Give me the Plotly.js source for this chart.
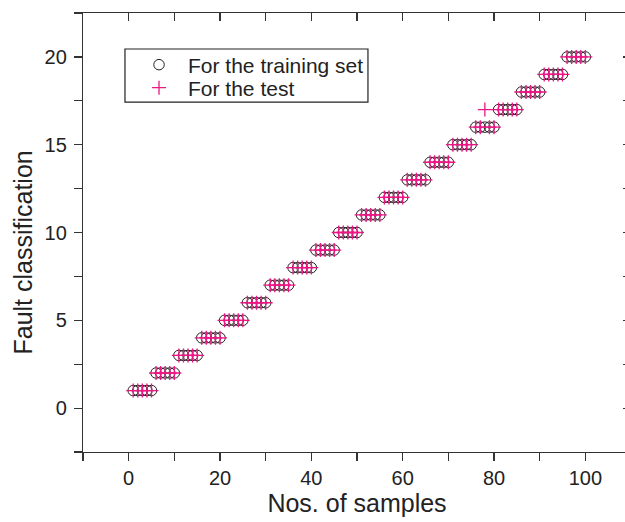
<!DOCTYPE html>
<html>
<head>
<meta charset="utf-8">
<script src="https://cdn.plot.ly/plotly-3.0.1.min.js"></script>
<style>
html, body { margin: 0; padding: 0; overflow: hidden; background: #fff; }
#chart { width: 640px; height: 522px; }
</style>
</head>
<body>
<div id="chart"></div>
<script>
// Sample numbers
var samples = [1,2,3,4,5,6,7,8,9,10,11,12,13,14,15,16,17,18,19,20,
  21,22,23,24,25,26,27,28,29,30,31,32,33,34,35,36,37,38,39,40,
  41,42,43,44,45,46,47,48,49,50,51,52,53,54,55,56,57,58,59,60,
  61,62,63,64,65,66,67,68,69,70,71,72,73,74,75,76,77,78,79,80,
  81,82,83,84,85,86,87,88,89,90,91,92,93,94,95,96,97,98,99,100];
// Fault classes for the training set
var trainingClass = [1,1,1,1,1,2,2,2,2,2,3,3,3,3,3,4,4,4,4,4,
  5,5,5,5,5,6,6,6,6,6,7,7,7,7,7,8,8,8,8,8,
  9,9,9,9,9,10,10,10,10,10,11,11,11,11,11,12,12,12,12,12,
  13,13,13,13,13,14,14,14,14,14,15,15,15,15,15,16,16,16,16,16,
  17,17,17,17,17,18,18,18,18,18,19,19,19,19,19,20,20,20,20,20];
// Fault classes for the test
var testClass = [1,1,1,1,1,2,2,2,2,2,3,3,3,3,3,4,4,4,4,4,
  5,5,5,5,5,6,6,6,6,6,7,7,7,7,7,8,8,8,8,8,
  9,9,9,9,9,10,10,10,10,10,11,11,11,11,11,12,12,12,12,12,
  13,13,13,13,13,14,14,14,14,14,15,15,15,15,15,16,16,17,16,16,
  17,17,17,17,17,18,18,18,18,18,19,19,19,19,19,20,20,20,20,20];

var xTickVals = [-10,0,10,20,30,40,50,60,70,80,90,100,110];
var xTickText = ['','0','','20','','40','','60','','80','','100',''];
var yTickVals = [-2.5,0,2.5,5,7.5,10,12.5,15,17.5,20,22.5];
var yTickText = ['','0','','5','','10','','15','','20',''];

var seriesNames = ['For the training set', 'For the test'];
var xTitle = 'Nos. of samples';
var yTitle = 'Fault classification';

var axisColor = '#333333';
var textColor = '#222222';
var fontFam = 'Liberation Sans, Arial, Helvetica, sans-serif';

var traces = [
  {
    x: samples, y: trainingClass, name: seriesNames[0], legend: 'legend',
    type: 'scatter', mode: 'markers',
    marker: { symbol: 'circle-open', size: 10.5, color: '#222222', line: { width: 1, color: '#222222' } }
  },
  {
    x: samples, y: testClass, name: seriesNames[1], legend: 'legend2',
    type: 'scatter', mode: 'markers',
    marker: { symbol: 'cross-thin-open', size: 10, color: '#ec1784', line: { width: 1.3, color: '#ec1784' } }
  },
  { x: [], y: [], xaxis: 'x2', yaxis: 'y2', showlegend: false, type: 'scatter', mode: 'markers', hoverinfo: 'skip' }
];

var baseAxis = {
  showgrid: false, zeroline: false, showline: true, linecolor: axisColor, linewidth: 1.2,
  tickcolor: axisColor, tickwidth: 1.2, ticklen: 8, tickmode: 'array'
};

var legendBase = {
  xanchor: 'left', yanchor: 'middle', borderwidth: 0, bgcolor: 'rgba(0,0,0,0)',
  font: { size: 21, family: fontFam, color: textColor }, itemwidth: 48
};

var layout = {
  width: 640, height: 522,
  margin: { l: 83, r: 9, t: 13, b: 70 },
  paper_bgcolor: '#ffffff', plot_bgcolor: '#ffffff',
  font: { family: fontFam, color: textColor, size: 20 },
  showlegend: true,
  legend: Object.assign({}, legendBase, { x: 0.0858, y: 0.8815 }),
  legend2: Object.assign({}, legendBase, { x: 0.0858, y: 0.829 }),
  shapes: [
    { type: 'rect', xref: 'paper', yref: 'paper', x0: 0.0766, x1: 0.520, y0: 0.797, y1: 0.918,
      line: { color: '#222222', width: 1.2 }, fillcolor: 'rgba(0,0,0,0)', layer: 'above' }
  ],
  annotations: [
    { text: yTitle, xref: 'paper', yref: 'paper', x: -0.109, y: 0.455, xanchor: 'center', yanchor: 'middle',
      textangle: -90, showarrow: false, font: { size: 25, family: fontFam, color: textColor } }
  ],
  xaxis: Object.assign({}, baseAxis, {
    range: [-10, 110], ticks: 'outside', tickvals: xTickVals, ticktext: xTickText,
    tickfont: { size: 20, family: fontFam, color: textColor },
    title: { text: xTitle, font: { size: 25, family: fontFam, color: textColor }, standoff: 6 }
  }),
  yaxis: Object.assign({}, baseAxis, {
    range: [-2.5, 22.5], ticks: 'outside', tickvals: yTickVals, ticktext: yTickText,
    tickfont: { size: 20, family: fontFam, color: textColor }, ticklabelstandoff: 3
  }),
  xaxis2: Object.assign({}, baseAxis, {
    overlaying: 'x', side: 'top', matches: 'x', range: [-10, 110], ticks: 'inside',
    tickvals: xTickVals, showticklabels: false
  }),
  yaxis2: Object.assign({}, baseAxis, {
    overlaying: 'y', side: 'right', matches: 'y', range: [-2.5, 22.5], ticks: 'inside',
    tickvals: yTickVals, showticklabels: false
  })
};

Plotly.newPlot('chart', traces, layout, { staticPlot: true, displayModeBar: false });
</script>
</body>
</html>
